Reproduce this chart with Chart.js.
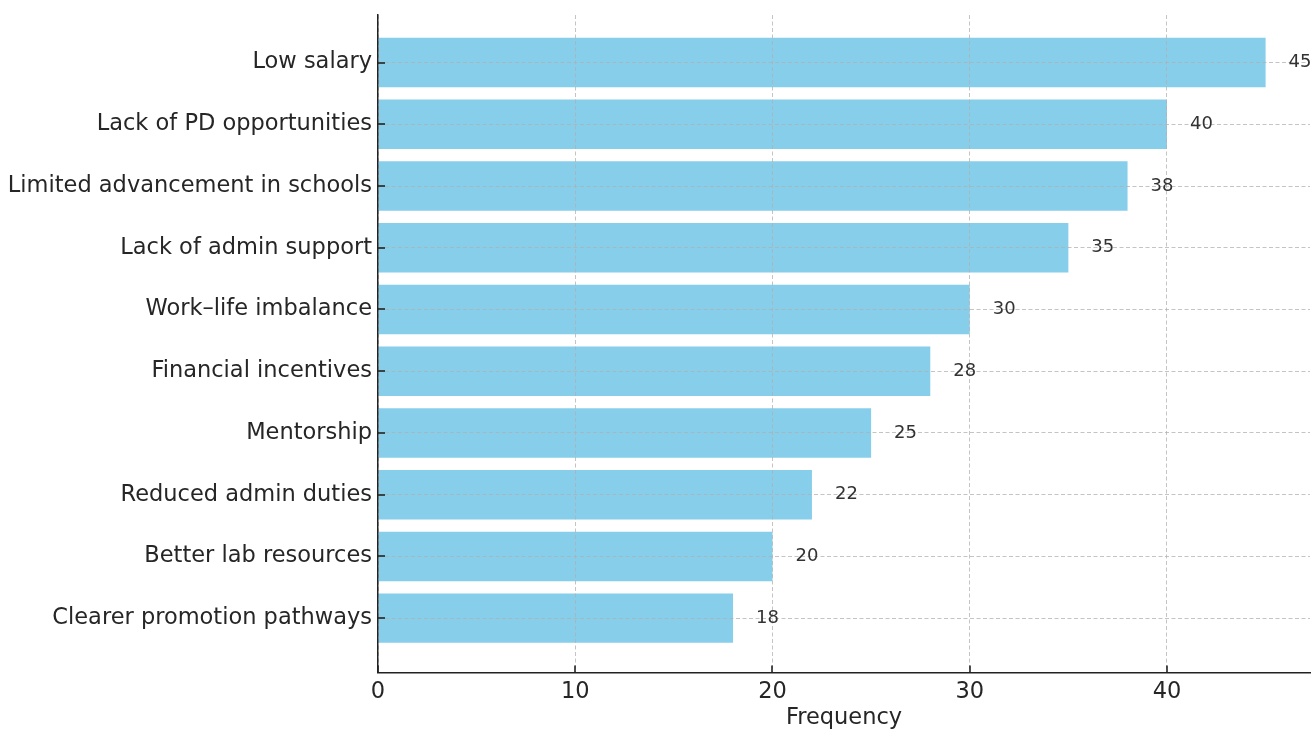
<!DOCTYPE html>
<html>
<head>
<meta charset="utf-8">
<script src="https://cdn.jsdelivr.net/npm/chart.js@4/dist/chart.umd.min.js"></script>
<style>
  body { margin: 0; background: #fff; }
  canvas { display: block; }
</style>
</head>
<body>
<canvas id="chart" width="1313" height="730"></canvas>
<script>
const categories = [
  'Low salary',
  'Lack of PD opportunities',
  'Limited advancement in schools',
  'Lack of admin support',
  'Work\u2013life imbalance',
  'Financial incentives',
  'Mentorship',
  'Reduced admin duties',
  'Better lab resources',
  'Clearer promotion pathways'
];
const frequency = [45, 40, 38, 35, 30, 28, 25, 22, 20, 18];
const xTicks = [0, 10, 20, 30, 40];

const FONT = 'DejaVu Sans';
const gridColor = 'rgba(176,176,176,0.75)';

// value labels + inward tick marks, matplotlib style
const extras = {
  id: 'extras',
  afterDraw(chart) {
    const ctx = chart.ctx;
    const xs = chart.scales.x, ys = chart.scales.y;
    const area = chart.chartArea;
    ctx.save();
    ctx.font = '18px ' + FONT;
    ctx.fillStyle = '#333';
    ctx.textAlign = 'left';
    ctx.textBaseline = 'middle';
    frequency.forEach((v, i) => {
      ctx.fillText(String(v), xs.getPixelForValue(v) + 23, ys.getPixelForValue(i));
    });
    ctx.strokeStyle = '#222';
    ctx.lineWidth = 1.6;
    categories.forEach((c, i) => {
      const y = Math.round(ys.getPixelForValue(i));
      ctx.beginPath(); ctx.moveTo(area.left, y); ctx.lineTo(area.left + 7, y); ctx.stroke();
    });
    xTicks.forEach(v => {
      const x = Math.round(xs.getPixelForValue(v));
      ctx.beginPath(); ctx.moveTo(x, area.bottom); ctx.lineTo(x, area.bottom - 7); ctx.stroke();
    });
    ctx.restore();
  }
};

new Chart(document.getElementById('chart'), {
  type: 'bar',
  data: {
    datasets: [{
      data: frequency.map((v, i) => ({ x: v, y: i })),
      backgroundColor: '#87CEEB',
      borderWidth: 0,
      barPercentage: 0.8,
      categoryPercentage: 1.0
    }]
  },
  options: {
    indexAxis: 'y',
    responsive: false,
    animation: false,
    layout: { padding: { top: 15, right: 3, left: 0, bottom: 0 } },
    plugins: { legend: { display: false }, tooltip: { enabled: false } },
    scales: {
      x: {
        type: 'linear',
        min: 0,
        max: 47.25,
        bounds: 'data',
        afterBuildTicks: s => { s.ticks = xTicks.map(v => ({ value: v })); },
        afterFit: s => { s.height = 57.5; s.paddingLeft = 0; s.paddingRight = 0; },
        grid: { color: gridColor, lineWidth: 1, drawTicks: false, z: 1 },
        border: { display: true, color: '#222', width: 1.5, dash: [4, 2.5], z: 2 },
        ticks: { font: { family: FONT, size: 22.5 }, color: '#262626', padding: 6, maxRotation: 0 },
        title: { display: true, text: 'Frequency', font: { family: FONT, size: 22.5 }, color: '#262626', padding: { top: 0, bottom: -2 } }
      },
      y: {
        type: 'linear',
        reverse: true,
        offset: false,
        min: -0.77,
        max: 9.88,
        bounds: 'data',
        afterBuildTicks: s => { s.ticks = categories.map((c, i) => ({ value: i })); },
        afterFit: s => { s.width = 378; s.paddingTop = 0; s.paddingBottom = 0; },
        grid: { color: gridColor, lineWidth: 1, drawTicks: false, offset: false, z: 1 },
        border: { display: true, color: '#222', width: 1.5, dash: [4, 2.5], z: 2 },
        ticks: {
          font: { family: FONT, size: 22.5 },
          color: '#262626',
          padding: 6,
          callback: v => categories[v]
        }
      }
    }
  },
  plugins: [extras]
});
</script>
</body>
</html>
